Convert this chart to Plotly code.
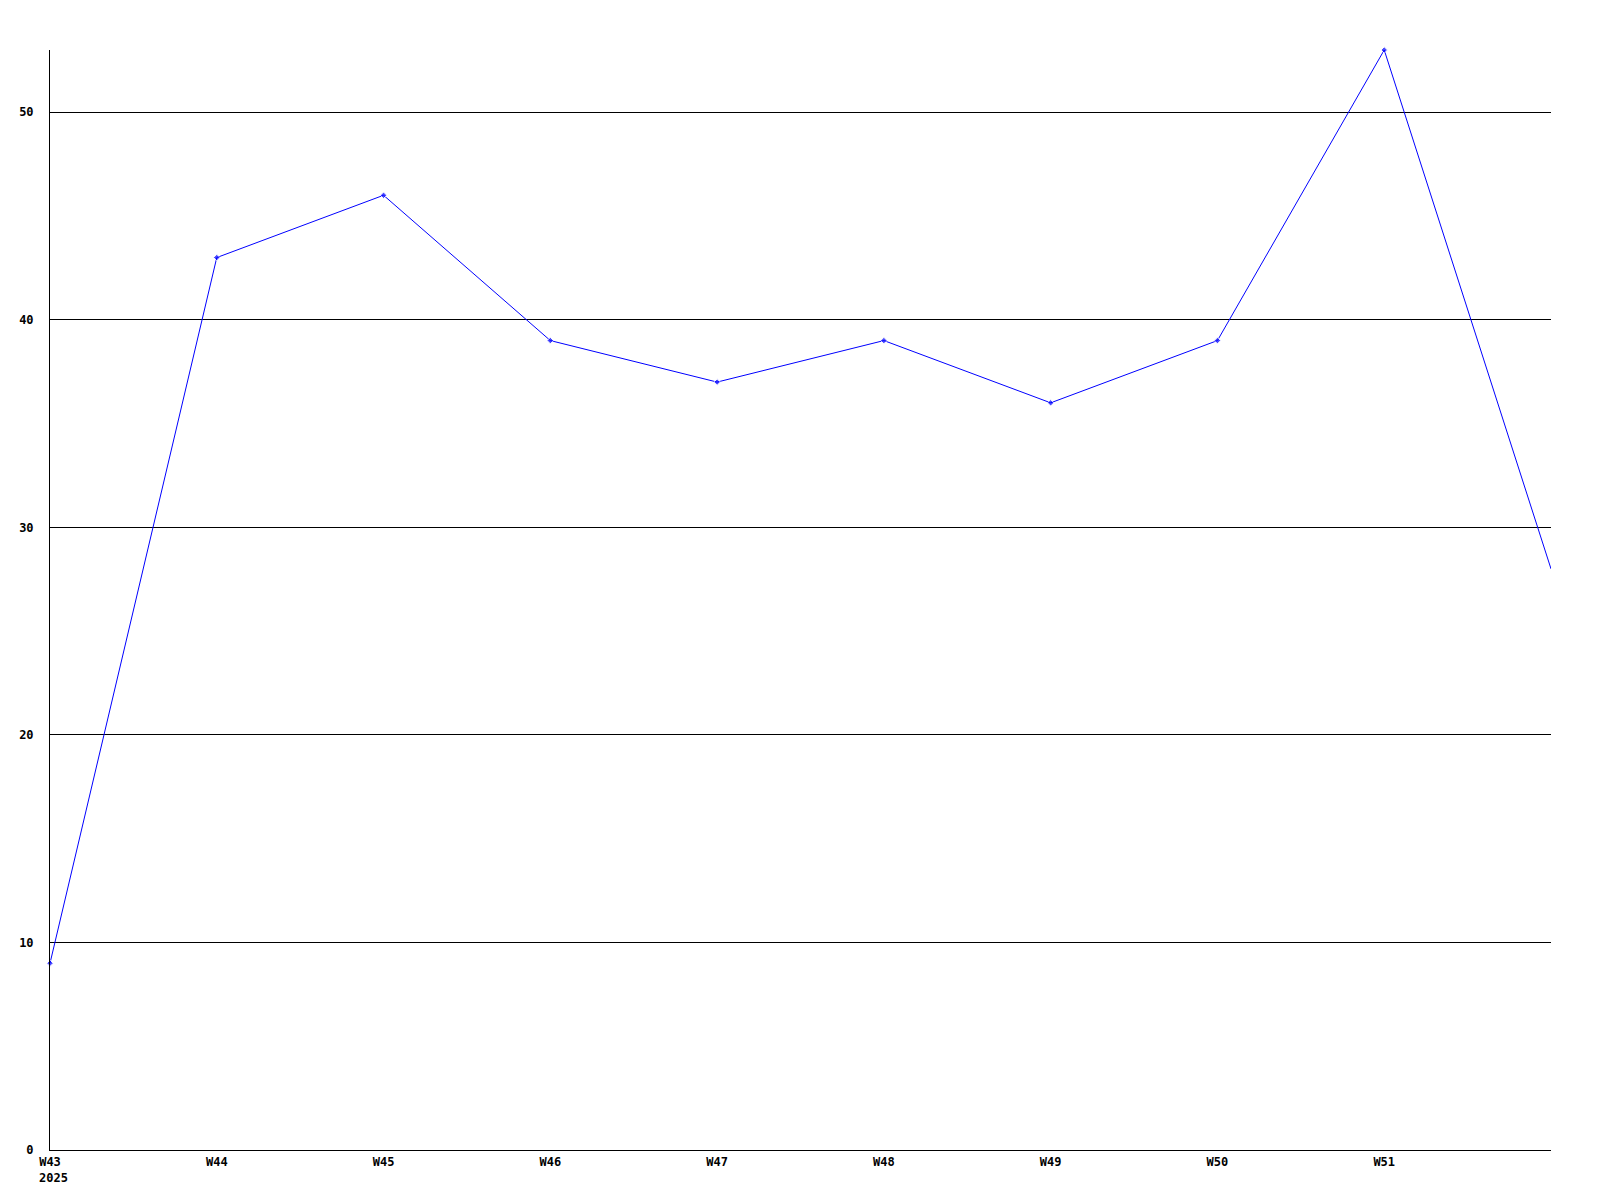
import plotly.graph_objects as go

weeks = ["W43", "W44", "W45", "W46", "W47", "W48", "W49", "W50", "W51", "W52"]
values = [9, 43, 46, 39, 37, 39, 36, 39, 53, 28]
tick_labels = ["W43", "W44", "W45", "W46", "W47", "W48", "W49", "W50", "W51"]
year_label = "2025"
y_ticks = [0, 10, 20, 30, 40, 50]

xs = list(range(len(weeks)))
font = dict(family="DejaVu Sans Mono", size=12, color="black")
marker_sizes = [5] * (len(values) - 1) + [0]

fig = go.Figure()
fig.add_trace(go.Scatter(
    x=xs, y=values, mode="lines+markers",
    line=dict(color="#0000ff", width=1),
    marker=dict(symbol="diamond", size=marker_sizes, color="#0000ff"),
    cliponaxis=False, showlegend=False,
))

fig.add_annotation(
    x=0, y=0, xref="x", yref="y", text="<b>" + year_label + "</b>",
    showarrow=False, xanchor="left", yanchor="top", xshift=-13, yshift=-19,
    font=font,
)

fig.update_layout(
    width=1600, height=1200,
    margin=dict(l=42, r=57, t=42, b=58),
    paper_bgcolor="white", plot_bgcolor="white",
    font=font,
    xaxis=dict(
        range=[0, 9], tickvals=xs[:len(tick_labels)],
        ticktext=["<b>" + t + "</b>" for t in tick_labels],
        showgrid=False, zeroline=False, showline=True, linecolor="black", linewidth=1,
        ticks="", ticklabelstandoff=1, tickfont=font, automargin=False,
    ),
    yaxis=dict(
        range=[0, 53], tickvals=y_ticks,
        ticktext=["<b>%d</b>" % v for v in y_ticks],
        showgrid=True, gridcolor="black", gridwidth=1, zeroline=False,
        showline=True, linecolor="black", linewidth=1,
        ticks="", ticklabelstandoff=13, tickfont=font, automargin=False,
    ),
)

fig.write_html("out.html")
